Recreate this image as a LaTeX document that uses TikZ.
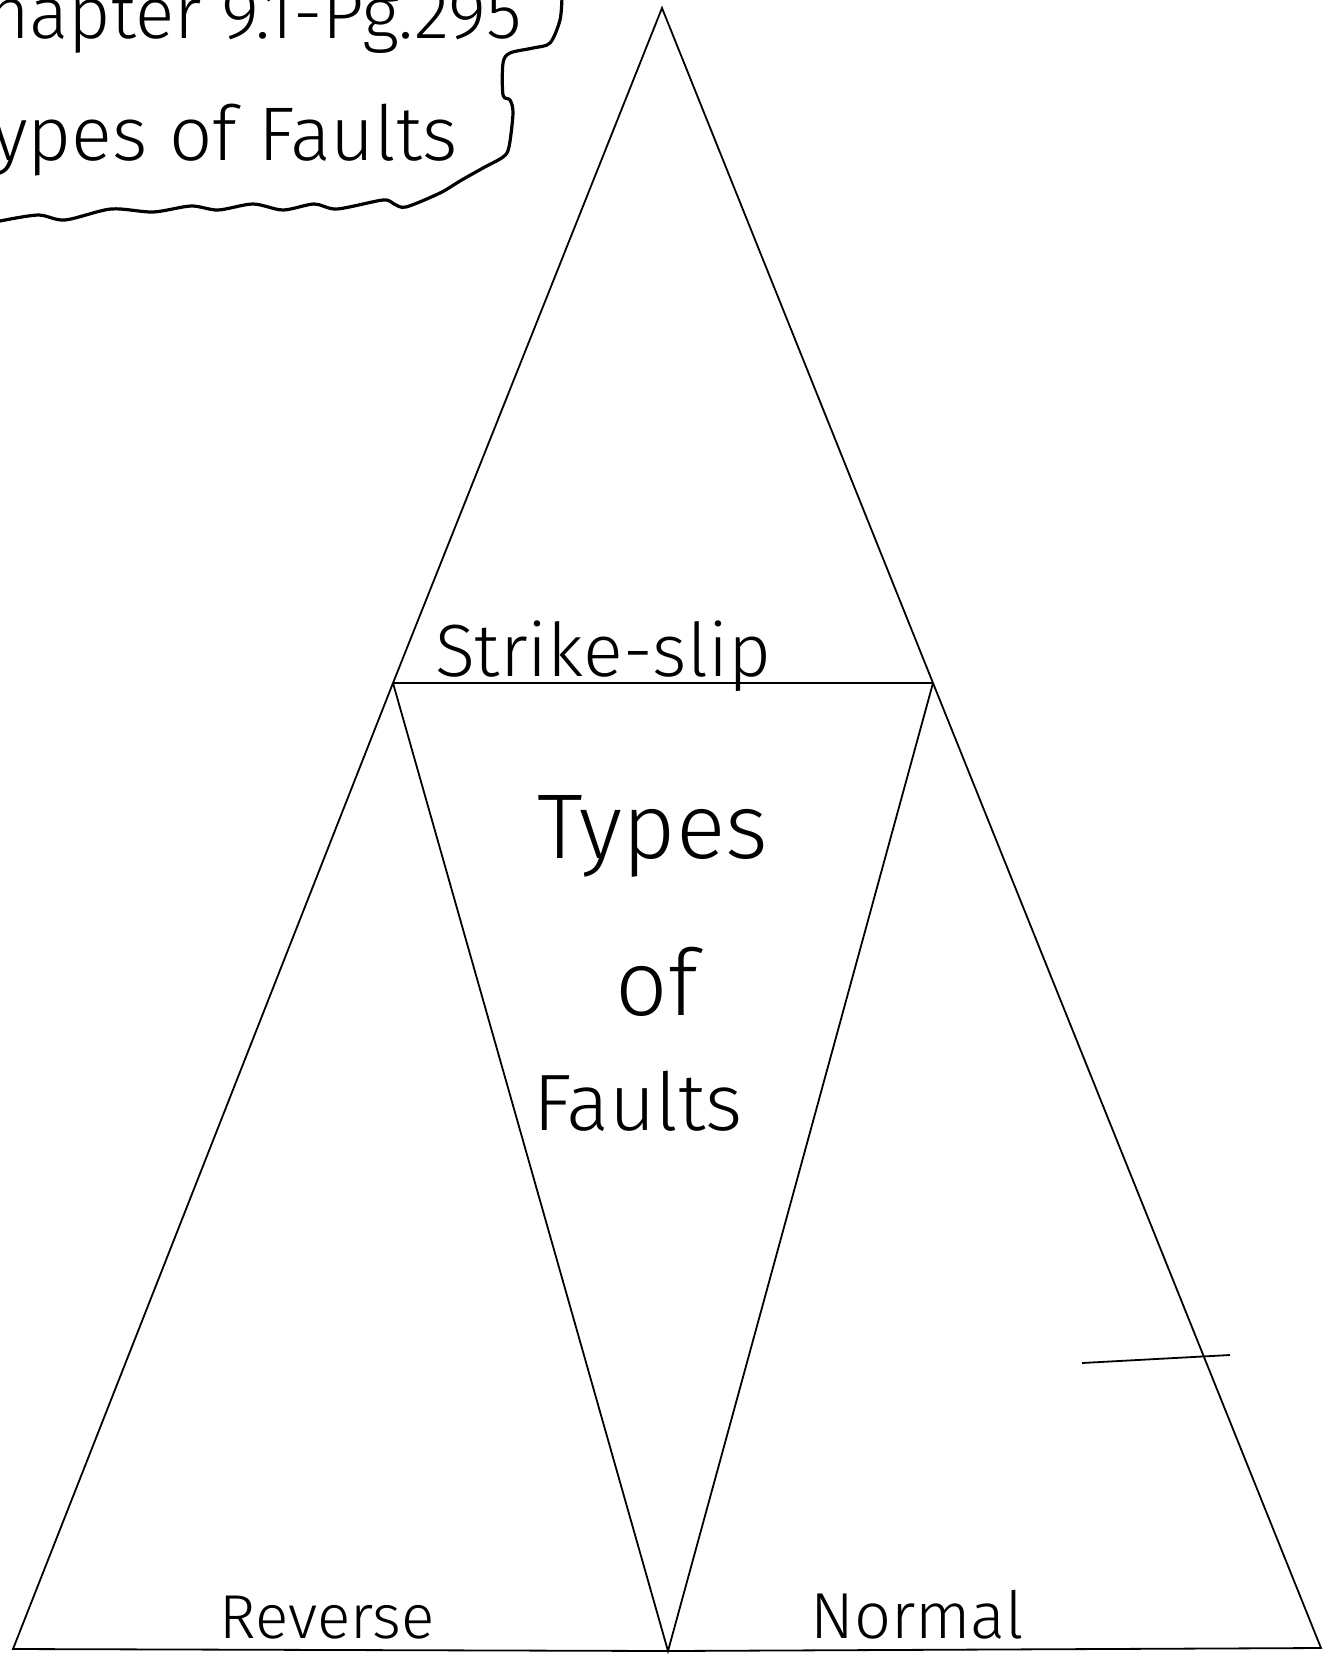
\documentclass[tikz,border=0pt]{standalone}
\usepackage{fontspec}
\setmainfont{Fira Sans Light}
\begin{document}
\begin{tikzpicture}[x=0.5pt,y=-0.5pt,
  edge/.style={line width=0.9pt,line join=miter,black},
  boxline/.style={line width=1.6pt,line cap=round,line join=round},
  bigtxt/.style={font=\fontsize{46}{52}\selectfont,inner sep=0pt},
  midtxt/.style={font=\fontsize{37}{42}\selectfont,inner sep=0pt},
  smtxt/.style={font=\fontsize{31}{36}\selectfont,inner sep=0pt},
  labtxt/.style={font=\fontsize{36.5}{42}\selectfont,inner sep=0pt}]
\useasboundingbox (0,0) rectangle (1334,1655);
\clip (0,0) rectangle (1334,1655);
\fill[white] (0,0) rectangle (1334,1655);

% vertices
\coordinate (apex) at (662,8);
\coordinate (ml) at (393,683);
\coordinate (mr) at (933,683);
\coordinate (bl) at (13,1649);
\coordinate (bm) at (668,1651);
\coordinate (br) at (1321,1648);
\coordinate (s1) at (1082,1363);
\coordinate (s2) at (1230,1355);

% triangles
\draw[edge] (apex) -- (ml) -- (bl) -- (bm) -- (br) -- (mr) -- cycle;
\draw[edge] (ml) -- (mr);
\draw[edge] (ml) -- (bm) -- (mr);
\draw[edge] (s1) -- (s2);

% title box border
\draw[boxline] plot[smooth,tension=0.5] coordinates {(562,-4) (560,20) (550,43) (533,48) (510,53) (503,63) (503,95) (510,100) (513,113) (509,147) (503,157) (483,168) (460,181) (440,193) (406,207) (394,204) (383,200) (337,209) (314,204) (283,210) (253,204) (218,210) (191,206) (153,212) (111,209) (65,220) (38,215) (0,221)};

% texts
\node[labtxt,anchor=base east] (t1) at (522,38) {Chapter 9.1-Pg.295};
\node[labtxt,anchor=base east,font=\fontsize{38}{44}\selectfont] (t2) at (458,160) {Types of Faults};

\node[midtxt,anchor=base] (ss) at (603,676) {Strike-slip};
\node[bigtxt,anchor=base] (ty) at (653,858) {Types};
\node[bigtxt,anchor=base] (of) at (657,1015) {of};
\node[bigtxt,anchor=base,font=\fontsize{40}{46}\selectfont] (fa) at (638,1130) {Faults};
\node[smtxt,anchor=base] (rv) at (327,1638) {Reverse};
\node[smtxt,anchor=base,font=\fontsize{32.5}{38}\selectfont] (nm) at (917,1638) {Normal};
\end{tikzpicture}
\end{document}
